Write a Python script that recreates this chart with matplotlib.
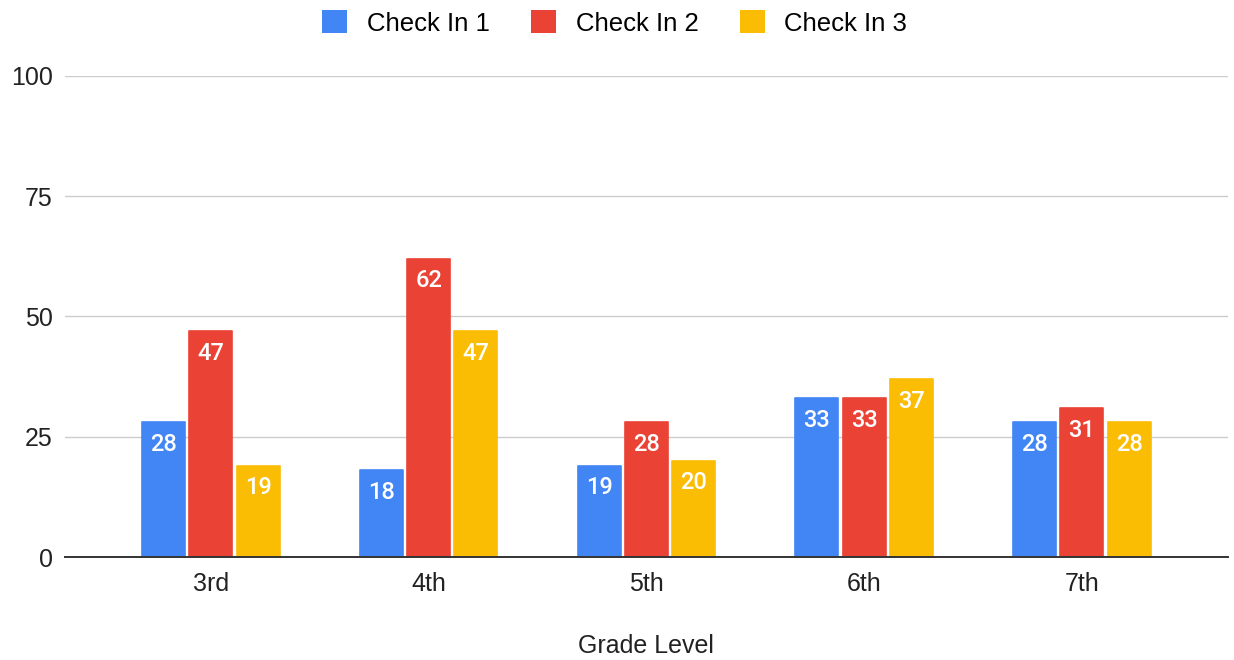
import matplotlib
matplotlib.use("Agg")
import matplotlib.pyplot as plt
import numpy as np

grades = ["3rd", "4th", "5th", "6th", "7th"]
check_in_1 = [28, 18, 19, 33, 28]
check_in_2 = [47, 62, 28, 33, 31]
check_in_3 = [19, 47, 20, 37, 28]
series_names = ["Check In 1", "Check In 2", "Check In 3"]
colors = ["#4285F4", "#EA4335", "#FBBC04"]
yticks = [0, 25, 50, 75, 100]

plt.rcParams['font.family'] = ['Liberation Sans', 'DejaVu Sans']

fig = plt.figure(figsize=(12.34, 6.6), dpi=100)
ax = fig.add_axes([0.0527, 0.156, 0.9423, 0.729])

x = np.arange(len(grades))
bw = 0.197
step = 0.217
for i, (vals, name, c) in enumerate(zip([check_in_1, check_in_2, check_in_3], series_names, colors)):
    pos = x + (i - 1) * step
    bars = ax.bar(pos, vals, width=bw, color=c, label=name, zorder=3,
                  edgecolor=c, linewidth=1.2, joinstyle='round')
    for b, v in zip(bars, vals):
        ax.text(b.get_x() + b.get_width() / 2, v - 4.6, str(v), ha='center', va='center',
                color='white', fontsize=17, fontweight='medium',
                family=['Roboto', 'DejaVu Sans'], zorder=4)

ax.set_xlim(-0.67, 4.67)
ax.set_ylim(0, 100)
ax.set_yticks(yticks)
ax.set_xticks(x)
ax.set_xticklabels(grades)
ax.tick_params(axis='both', length=0, labelsize=18, colors='#222222')
ax.tick_params(axis='y', pad=9)
ax.tick_params(axis='x', pad=11)
ax.grid(axis='y', color='#cccccc', linewidth=1, zorder=0)
for s in ['top', 'right', 'left']:
    ax.spines[s].set_visible(False)
ax.spines['bottom'].set_color('#333333')
ax.spines['bottom'].set_linewidth(1.4)
ax.spines['bottom'].set_zorder(5)

ax.set_xlabel("Grade Level", fontsize=18, color='#222222', labelpad=27)

leg = fig.legend(loc='center', bbox_to_anchor=(0.498, 0.965), ncol=3, frameon=False,
                 fontsize=18.5, handlelength=1.0, handleheight=1.0, columnspacing=1.6,
                 handletextpad=0.75)
for h in leg.legend_handles:
    h.set_edgecolor('none')

fig.savefig("out.png", dpi=100)
